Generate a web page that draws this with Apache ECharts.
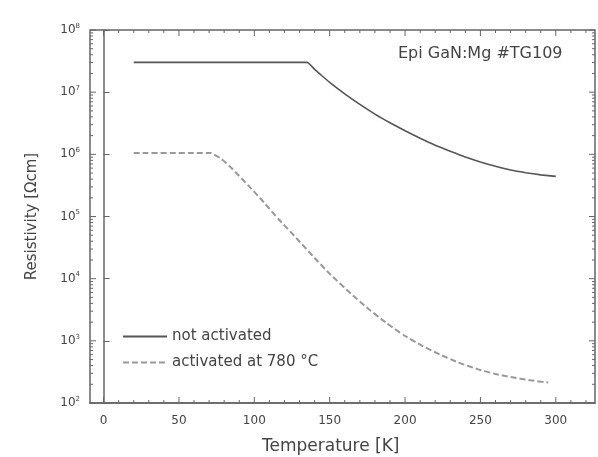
<!DOCTYPE html>
<html>
<head>
<meta charset="utf-8">
<script src="https://cdn.jsdelivr.net/npm/echarts@6/dist/echarts.min.js"></script>
<style>
html,body{margin:0;padding:0;background:#fff;}
#main{width:598px;height:457px;}
</style>
</head>
<body>
<div id="main"></div>
<script>
// temperature [K] and resistivity [Ohm cm]
var tempNot = [20, 135, 140, 145, 150, 160, 170, 180, 190, 200, 210, 220, 230, 240, 250, 260, 270, 280, 290, 300];
var resNot = [3.02e7, 3.02e7, 2.33e7, 1.82e7, 1.44e7, 9.39e6, 6.35e6, 4.44e6, 3.22e6, 2.39e6, 1.81e6, 1.4e6, 1.12e6, 9.07e5, 7.54e5, 6.42e5, 5.59e5, 5.07e5, 4.68e5, 4.42e5];

var tempAct = [20, 71, 78, 84, 90, 96, 107, 116, 128, 139, 150, 164, 176, 188, 199, 211, 223, 235, 248, 260, 270, 283, 295];
var resAct = [1.05e6, 1.05e6, 8.5e5, 6.3e5, 4.47e5, 3.16e5, 1.62e5, 9.1e4, 4.47e4, 2.29e4, 1.2e4, 5.75e3, 3.22e3, 1.91e3, 1.24e3, 841, 604, 452, 351, 293, 261, 232, 213];

var xMajor = [0, 50, 100, 150, 200, 250, 300];
var xMinor = [10, 20, 30, 40, 60, 70, 80, 90, 110, 120, 130, 140, 160, 170, 180, 190, 210, 220, 230, 240, 260, 270, 280, 290, 310, 320];
var yDecades = [2, 3, 4, 5, 6, 7, 8];

var X_MIN = -9, X_MAX = 326;

function pair(xs, ys) {
    var out = [];
    for (var i = 0; i < xs.length; i++) out.push([xs[i], ys[i]]);
    return out;
}

var font = 'DejaVu Sans';
var axisCol = '#666';
var txtCol = '#444';

var myChart = echarts.init(document.getElementById('main'));
myChart.setOption({
    backgroundColor: '#fff',
    animation: false,
    title: [
        {text: 'Epi GaN:Mg #TG109', left: 398, top: 46, padding: 0,
            textStyle: {fontFamily: font, fontSize: 16, fontWeight: 'normal', color: txtCol}},
        {text: 'Temperature [K]', left: 262, top: 438, padding: 0,
            textStyle: {fontFamily: font, fontSize: 17, fontWeight: 'normal', color: txtCol}}
    ],
    grid: {left: 90, right: 3, top: 30, bottom: 54, show: true, borderColor: axisCol, borderWidth: 1.5, outerBoundsMode: 'none'},
    xAxis: {
        type: 'value', position: 'bottom', min: X_MIN, max: X_MAX,
        axisLine: {show: true, onZero: false, lineStyle: {color: axisCol, width: 1.5}},
        axisTick: {show: false},
        axisLabel: {show: true, customValues: xMajor, color: txtCol, fontFamily: font, fontSize: 12, margin: 12},
        splitLine: {show: false}
    },
    yAxis: {
        type: 'log', logBase: 10, min: 100, max: 1e8, splitNumber: 6, position: 'left',
        name: 'Resistivity [Ωcm]', nameLocation: 'middle', nameGap: 50, nameRotate: 90,
        nameTextStyle: {fontFamily: font, fontSize: 15, color: txtCol},
        axisLine: {show: true, lineStyle: {color: axisCol, width: 1.5}},
        axisTick: {show: true, inside: true, length: 6, lineStyle: {color: axisCol, width: 1}},
        axisLabel: {
            show: true, margin: 10, color: txtCol, fontFamily: font,
            formatter: function (v) { return '{b|10}{s|' + Math.round(Math.log10(v)) + '}'; },
            rich: {
                b: {fontSize: 12, fontFamily: font, color: txtCol},
                s: {fontSize: 7, fontFamily: font, color: txtCol, padding: [0, 0, 8, 0]}
            }
        },
        splitLine: {show: false}
    },
    legend: {
        orient: 'vertical', left: 117, top: 324, itemWidth: 44, itemHeight: 10, itemGap: 11,
        itemStyle: {opacity: 0},
        textStyle: {fontFamily: font, fontSize: 15, color: txtCol},
        data: ['not activated', 'activated at 780 °C']
    },
    series: [
        {
            name: 'not activated', type: 'line',
            data: pair(tempNot, resNot), symbol: 'none', smooth: 0.15,
            lineStyle: {color: '#555', width: 1.6}, itemStyle: {color: '#555'}
        },
        {
            name: 'activated at 780 °C', type: 'line',
            data: pair(tempAct, resAct), symbol: 'none', smooth: 0.15,
            lineStyle: {color: '#999', width: 2, type: [6, 3]}, itemStyle: {color: '#999'}
        }
    ]
});

// inside tick marks on all four sides, placed through the axes' own scales
var xL = myChart.convertToPixel({xAxisIndex: 0}, X_MIN);
var xR = myChart.convertToPixel({xAxisIndex: 0}, X_MAX);
var yT = myChart.convertToPixel({yAxisIndex: 0}, 1e8);
var yB = myChart.convertToPixel({yAxisIndex: 0}, 100);
var ticks = [];
function addLine(x1, y1, x2, y2) {
    ticks.push({
        type: 'line', shape: {x1: x1, y1: y1, x2: x2, y2: y2},
        style: {stroke: axisCol, lineWidth: 1}
    });
}
xMajor.concat(xMinor).forEach(function (v) {
    var len = xMajor.indexOf(v) >= 0 ? 6 : 3;
    var px = myChart.convertToPixel({xAxisIndex: 0}, v);
    addLine(px, yB, px, yB - len);
    addLine(px, yT, px, yT + len);
});
yDecades.forEach(function (d) {
    for (var k = 1; k <= 9; k++) {
        if (d === 8 && k > 1) break;
        var len = k === 1 ? 6 : 3;
        var py = myChart.convertToPixel({yAxisIndex: 0}, k * Math.pow(10, d));
        addLine(xL, py, xL + len, py);
        addLine(xR, py, xR - len, py);
    }
});
if (isNaN(xL) || isNaN(yT)) {
    ticks.push({type: 'text', left: 400, top: 5, style: {text: 'px ' + xL + ' ' + yT, fill: 'red'}});
}
myChart.setOption({graphic: ticks});
</script>
</body>
</html>
